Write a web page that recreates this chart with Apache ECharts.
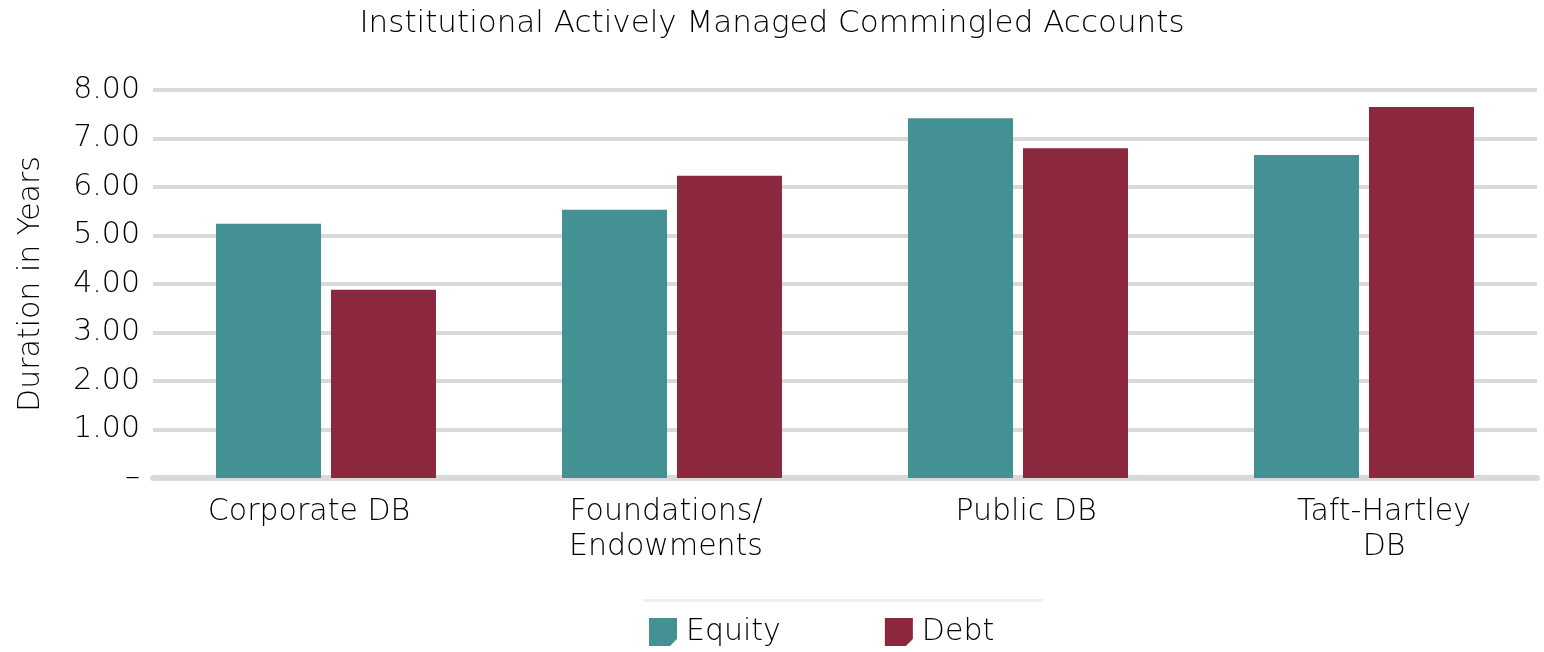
<!DOCTYPE html>
<html><head><meta charset="utf-8">
<script src="https://cdn.jsdelivr.net/npm/echarts@6/dist/echarts.min.js"></script>
<style>html,body{margin:0;padding:0;background:#fff}#c{width:1544px;height:652px}</style>
</head><body><div id="c"></div>
<script>
const categories = ['Corporate DB', 'Foundations/\nEndowments', 'Public DB', 'Taft-Hartley\nDB'];
const equity = [5.24, 5.53, 7.42, 6.66];
const debt = [3.88, 6.23, 6.80, 7.65];
const seriesNames = ['Equity', 'Debt'];
const titleText = 'Institutional Actively Managed Commingled Accounts';
const yAxisName = 'Duration in Years';

const FONT = '"DejaVu Sans", sans-serif';
const FW = 200;
const TXT = '#000';
const labelShift = [-17, -6, 8, 20];
const icon = 'path://M0,0 L10,0 L10,7.5 L7.5,10 L0,10 Z';
const chart = echarts.init(document.getElementById('c'));
chart.setOption({
  animation: false,
  title: { text: titleText, left: 'center', top: 3,
    textStyle: { fontFamily: FONT, fontSize: 31, fontWeight: FW, color: TXT } },
  grid: { left: 153, right: 7, top: 90, bottom: 174 },
  legend: { top: 617, left: 649, padding: 0, itemGap: 104, itemWidth: 28, itemHeight: 29,
    icon: icon, textStyle: { fontFamily: FONT, fontSize: 30, fontWeight: FW, color: TXT, padding: [0,0,0,4] } },
  graphic: [{ type: 'rect', shape: { x: 643, y: 599, width: 400, height: 3 }, style: { fill: '#eeeeee' } }],
  xAxis: { type: 'category',
    data: categories.map((c, i) => ({ value: c, textStyle: {
      padding: labelShift[i] < 0 ? [0, -2 * labelShift[i], 0, 0] : [0, 0, 0, 2 * labelShift[i]] } })),
    axisLine: { lineStyle: { color: '#d9d9d9', width: 6 } },
    axisTick: { show: false },
    axisLabel: { fontFamily: FONT, fontSize: 30, fontWeight: FW, color: TXT, margin: 17, lineHeight: 35 } },
  yAxis: { type: 'value', min: 0, max: 8, interval: 1,
    name: yAxisName, nameLocation: 'middle', nameGap: 107, nameRotate: 90,
    nameTextStyle: { fontFamily: FONT, fontSize: 30, fontWeight: FW, color: TXT },
    axisLabel: { fontFamily: FONT, fontSize: 30, fontWeight: FW, color: TXT, margin: 13,
      formatter: v => v === 0 ? '–' : v.toFixed(2) },
    splitLine: { lineStyle: { color: '#d9d9d9', width: 4 } },
    axisLine: { show: false }, axisTick: { show: false } },
  series: [
    { name: seriesNames[0], type: 'bar', data: equity, barWidth: 105, barGap: '9.5%', itemStyle: { color: '#439192' } },
    { name: seriesNames[1], type: 'bar', data: debt, barWidth: 105, itemStyle: { color: '#8B283E' } }
  ]
});
</script></body></html>
